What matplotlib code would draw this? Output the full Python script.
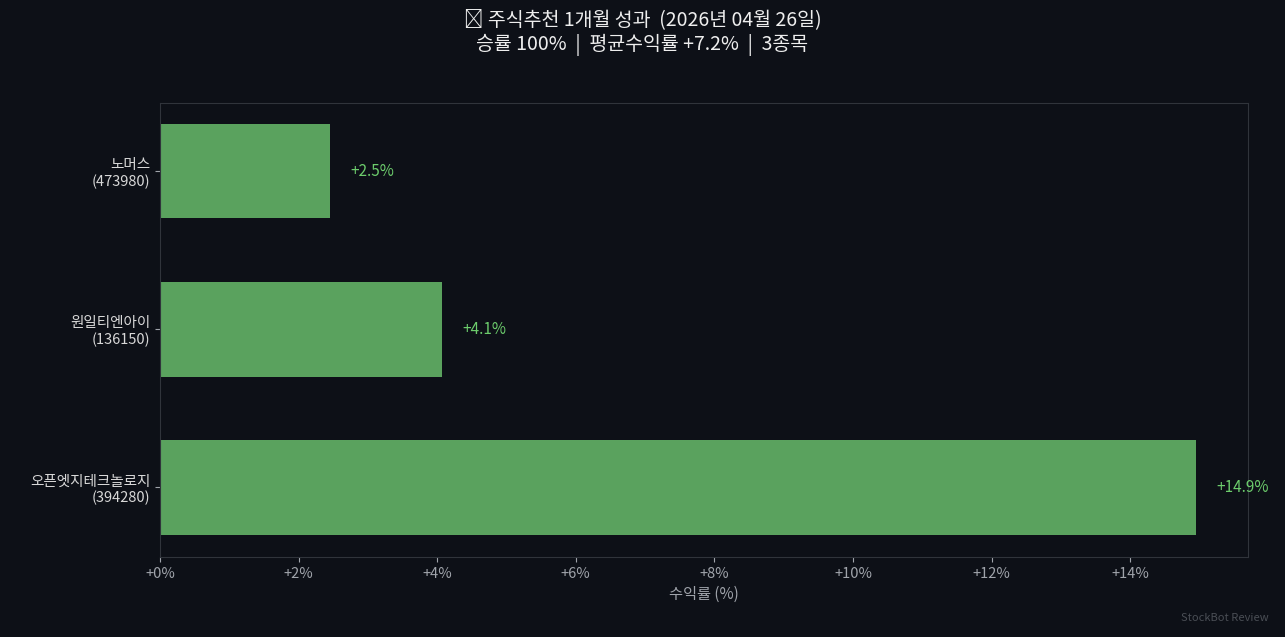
import matplotlib
matplotlib.use("Agg")
import matplotlib.pyplot as plt
from matplotlib.ticker import FuncFormatter

plt.rcParams["font.family"] = ["Noto Sans CJK KR", "DejaVu Sans"]

names = ["오픈엣지테크놀로지\n(394280)", "원일티엔아이\n(136150)", "노머스\n(473980)"]
returns = [14.95, 4.07, 2.45]
labels = ["+14.9%", "+4.1%", "+2.5%"]

bg = "#0d1017"
fig = plt.figure(figsize=(12.85, 6.37), dpi=100, facecolor=bg)
ax = fig.add_axes([160 / 1285, 80 / 637, 1088 / 1285, 454 / 637], facecolor=bg)

ys = range(len(names))
ax.barh(ys, returns, height=0.6, color="#5aa25e")
for y, v, t in zip(ys, returns, labels):
    ax.text(v + 0.3, y, t, va="center", ha="left", color="#6ccc6c", fontsize=11)

ax.set_yticks(list(ys))
ax.set_yticklabels(names, color="#d8d8d8", fontsize=10.5)
ax.set_ylim(-0.44, 2.43)
ax.set_xlim(0, 15.7)
ax.set_xticks(range(0, 15, 2))
ax.xaxis.set_major_formatter(FuncFormatter(lambda v, p: f"+{v:.0f}%"))
ax.tick_params(axis="x", colors="#a0a4ab", labelsize=10.5)
ax.tick_params(axis="y", colors="#a0a4ab")
for lbl in ax.get_yticklabels():
    lbl.set_color("#d8d8d8")
for s in ax.spines.values():
    s.set_color("#30343b")
ax.set_xlabel("수익률 (%)", color="#a0a4ab", fontsize=11)

fig.suptitle("📊 주식추천 1개월 성과  (2026년 04월 26일)\n승률 100%  |  평균수익률 +7.2%  |  3종목",
             color="#eeeeee", fontsize=14, y=0.985)
fig.text(0.987, 0.022, "StockBot Review", ha="right", va="bottom", color="#4a4e55", fontsize=8)

fig.savefig("out.png", dpi=100, facecolor=bg)
